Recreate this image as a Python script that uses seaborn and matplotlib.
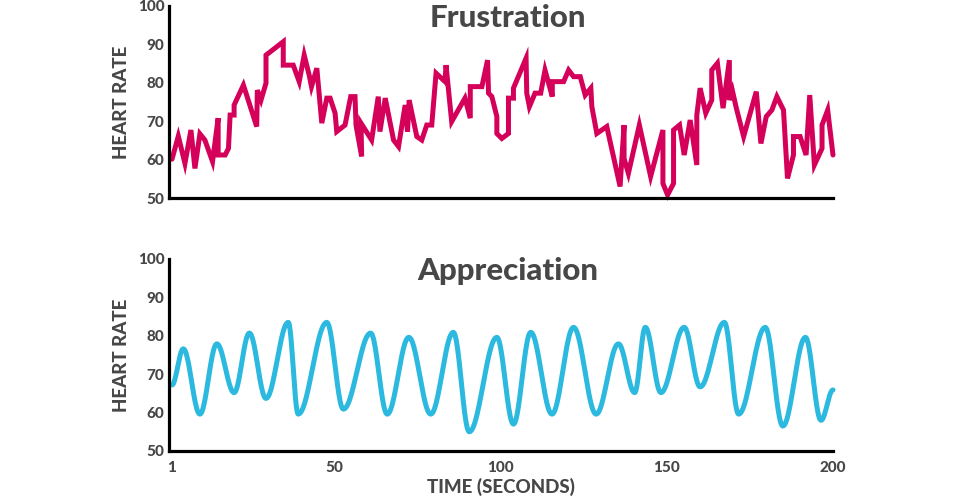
import numpy as np
import pandas as pd
import matplotlib
matplotlib.use("Agg")
import matplotlib.pyplot as plt
import seaborn as sns

# ---------------- data ----------------
frus_time = [1, 2.9, 4.9, 6.7, 7.9, 9.4, 10.9, 13.2, 14.9, 14.9, 17, 18, 18.5, 19.7, 19.7, 22.5,
             26.5, 26.7, 27.8, 29.3, 29.3, 34.5, 34.5, 37.5, 39.3, 40.8, 42.3, 43, 44.6, 46.1,
             47.6, 48.6, 50.1, 50.6, 53.1, 54.8, 56.1, 56.4, 58.1, 57.9, 61.1, 63.1, 63.6, 65.2,
             67.7, 69.2, 71.2, 71.9, 72.4, 74.7, 76.2, 77.7, 79.2, 80.5, 83.2, 83.5, 85.2, 89.2,
             90.8, 90.8, 94.3, 96, 96.3, 97.3, 98.8, 98.8, 100.3, 102.3, 102.3, 103.8, 103.8,
             107.6, 107.8, 108.6, 110.3, 112, 113.3, 115.5, 115.5, 118.9, 120.4, 121.9, 123.9,
             125.4, 127.1, 127.4, 128.9, 131.9, 135.9, 137.1, 137.1, 138.4, 141.7, 145.1, 148.8,
             148.8, 150.2, 152, 152, 153.8, 155.2, 157, 159, 159, 160, 161.7, 163.5, 163.5, 165.2,
             166.9, 168.8, 168.8, 169.7, 170.9, 173.1, 176.9, 178.3, 179.9, 181.6, 183.1, 185.1,
             186.3, 188.1, 188.1, 190.1, 191.9, 193, 194.4, 196.7, 196.7, 198.4, 200]
frus_rate = [60.1, 66.1, 59, 67.7, 57.7, 66.7, 65.1, 59.5, 70.8, 61.2, 61.2, 62.9, 71.6, 71.6, 74.2, 79.4,
             68.6, 78.1, 75.5, 79.9, 87.2, 90.7, 84.6, 84.6, 80.3, 87.2, 82, 79, 83.8, 69.5,
             76, 76, 72.1, 67.3, 69, 76.4, 76.4, 69, 60.8, 69.5, 65.1, 76.4, 67.3, 76,
             65.1, 63.4, 74.2, 67.3, 75.5, 66, 65.1, 69, 69, 82.5, 80.3, 84.6, 69.9, 76,
             70.8, 79, 79, 85.9, 77.3, 76.4, 71.2, 66.8, 65.5, 66.8, 76, 76, 78.6,
             86.4, 77.3, 73.8, 77.3, 77.3, 83.3, 76.4, 80.3, 80.3, 83.3, 81.6, 81.6,
             76.8, 78.6, 73.8, 66.8, 68.6, 53, 69, 60.3, 56.4, 69, 55.6, 67.7,
             53.8, 50.8, 53.8, 67.7, 69, 61.2, 70.3, 58.6, 71.6, 78.6, 72.1, 75.5, 83.3, 85.1,
             73.4, 85.9, 75.5, 78, 73.4, 66, 77.7, 64.2, 71.2, 72.9, 76.4, 72.9,
             55.1, 61.2, 66, 66, 61.2, 76.8, 58.6, 62.9, 69, 72.9, 61.2]

# turning points of the appreciation curve
appr_time = [1, 4.4, 9.4, 14.5, 19.7, 24.3, 29.3, 36, 39, 47.6, 52.6, 60.8, 65.8, 72.3, 78.9,
             85.7, 90.5, 98.8, 103.8, 109, 115.4, 121.9, 128.7, 135.4, 140.3, 143.5, 148.2,
             155.2, 160, 167.3, 171.6, 179.6, 184.9, 191.7, 196.4, 200]
appr_rate = [67.2, 76.6, 59.6, 77.9, 65.2, 80.7, 63.7, 83.5, 59.6, 83.5, 60.9, 80.7, 59.6, 79.6, 59.6,
             80.9, 55, 79.6, 57, 80.9, 59.6, 82.2, 59.6, 77.9, 65.2, 82.2, 65.2,
             82.2, 66.7, 83.5, 59.6, 82.2, 56.5, 79.6, 58, 65.9]

titles = ["Frustration", "Appreciation"]
x_ticks = [1, 50, 100, 150, 200]
y_ticks = [50, 60, 70, 80, 90, 100]
y_label = "HEART RATE"
x_label = "TIME (SECONDS)"

MAGENTA = "#d4005a"
CYAN = "#2cb9df"
GREY = "#474747"

# ---------------- drawing ----------------
sns.set_style("white")
plt.rcParams["font.family"] = ["Lato", "DejaVu Sans"]

fig = plt.figure(figsize=(9.6, 4.99), dpi=100)
ax1 = fig.add_axes([0.1757, 0.6032, 0.692, 0.3848])
ax2 = fig.add_axes([0.1757, 0.0962, 0.692, 0.3848])

df_f = pd.DataFrame({"t": frus_time, "hr": frus_rate})
sns.lineplot(data=df_f, x="t", y="hr", ax=ax1, sort=False, estimator=None,
             color=MAGENTA, linewidth=3.6, solid_joinstyle="miter")

# smooth rendering between turning points (cosine easing)
xs, ys = [], []
for i in range(len(appr_time) - 1):
    s = np.linspace(0, 1, 25, endpoint=False)
    w = (1 - np.cos(np.pi * s)) / 2
    xs.extend(appr_time[i] + (appr_time[i + 1] - appr_time[i]) * s)
    ys.extend(appr_rate[i] + (appr_rate[i + 1] - appr_rate[i]) * w)
xs.append(appr_time[-1])
ys.append(appr_rate[-1])
df_a = pd.DataFrame({"t": xs, "hr": ys})
sns.lineplot(data=df_a, x="t", y="hr", ax=ax2, sort=False, estimator=None,
             color=CYAN, linewidth=3.6, solid_capstyle="round")

W = "black"
for ax, title, show_x in [(ax1, titles[0], False), (ax2, titles[1], True)]:
    ax.set_xlim(0, 200)
    ax.set_ylim(50, 100)
    ax.set_yticks(y_ticks)
    ax.set_yticklabels([str(v) for v in y_ticks], fontsize=11, fontweight=W, color=GREY)
    ax.set_ylabel(y_label, fontsize=13.5, fontweight=W, color=GREY, labelpad=6)
    ax.tick_params(axis="both", length=0, pad=3)
    for sp in ["top", "right"]:
        ax.spines[sp].set_visible(False)
    for sp in ["left", "bottom"]:
        ax.spines[sp].set_color("black")
        ax.spines[sp].set_linewidth(2.3)
    ax.set_facecolor("white")
    ax.text(0.51, 0.9375, title, transform=ax.transAxes, ha="center", va="center",
            fontsize=22.5, fontweight=W, color=GREY)
    if show_x:
        ax.set_xticks(x_ticks)
        ax.set_xticklabels([str(v) for v in x_ticks], fontsize=11, fontweight=W, color=GREY)
        ax.tick_params(axis="x", pad=7)
        ax.set_xlabel(x_label, fontsize=13.5, fontweight=W, color=GREY, labelpad=2)
    else:
        ax.set_xticks([])
        ax.set_xlabel("")
    for line in ax.get_lines():
        line.set_clip_on(False)

fig.savefig("out.png", dpi=100, facecolor="white")
